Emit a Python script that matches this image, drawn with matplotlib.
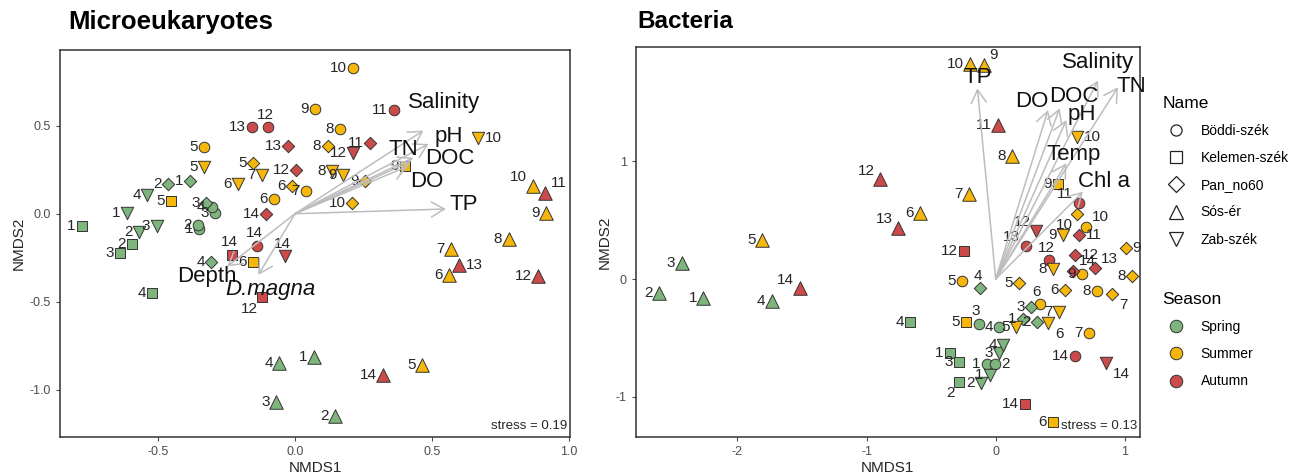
import matplotlib.pyplot as plt
from matplotlib.lines import Line2D

plt.rcParams['font.family'] = ['Liberation Sans', 'DejaVu Sans']

SITES = {'B': 'Böddi-szék', 'K': 'Kelemen-szék', 'P': 'Pan_no60',
         'S': 'Sós-ér', 'Z': 'Zab-szék'}
SEASONS = ['Spring', 'Summer', 'Autumn']

# ---- Microeukaryotes NMDS site scores ----
micro_site = ['B'] * 14 + ['K'] * 9 + ['P'] * 13 + ['S'] * 14 + ['Z'] * 12
micro_sample = [1, 2, 3, 4, 5, 6, 7, 8, 9, 10, 11, 12, 13, 14,
                1, 2, 3, 4, 5, 6, 9, 12, 14,
                1, 2, 3, 4, 5, 6, 8, 9, 10, 11, 12, 13, 14,
                1, 2, 3, 4, 5, 6, 7, 8, 9, 10, 11, 12, 13, 14,
                1, 2, 3, 4, 5, 6, 7, 8, 9, 10, 12, 14]
micro_x = [-0.350, -0.356, -0.292, -0.305, -0.333, -0.076, 0.039, 0.165, 0.073, 0.213, 0.363, -0.098, -0.156, -0.138,
           -0.780, -0.597, -0.640, -0.522, -0.453, -0.155, 0.402, -0.122, -0.231,
           -0.384, -0.466, -0.325, -0.307, -0.155, -0.010, 0.119, 0.256, 0.207, 0.274, 0.004, -0.027, -0.107,
           0.069, 0.146, -0.069, -0.057, 0.463, 0.561, 0.569, 0.780, 0.918, 0.868, 0.914, 0.887, 0.600, 0.321,
           -0.615, -0.570, -0.506, -0.540, -0.333, -0.207, -0.122, 0.134, 0.174, 0.668, 0.213, -0.037]
micro_y = [-0.087, -0.063, 0.007, 0.038, 0.379, 0.085, 0.127, 0.481, 0.597, 0.828, 0.591, 0.492, 0.490, -0.182,
           -0.072, -0.172, -0.223, -0.451, 0.074, -0.275, 0.269, -0.475, -0.233,
           0.184, 0.170, 0.061, -0.275, 0.288, 0.155, 0.383, 0.188, 0.061, 0.401, 0.250, 0.386, -0.002,
           -0.811, -1.148, -1.066, -0.849, -0.858, -0.347, -0.200, -0.144, 0.007, 0.159, 0.118, -0.352, -0.290, -0.915,
           0.007, -0.106, -0.072, 0.108, 0.265, 0.169, 0.222, 0.240, 0.222, 0.430, 0.345, -0.242]
micro_label_pos = {('B', 12): 'a', ('B', 14): 'a', ('K', 12): 'bl', ('K', 14): 'a',
                   ('S', 10): 'al', ('S', 11): 'ar', ('S', 13): 'r', ('Z', 10): 'r',
                   ('Z', 14): 'a'}

micro_vec_names = ['Salinity', 'pH', 'TN', 'DOC', 'DO', 'TP', 'Depth', 'D.magna']
micro_vec_x = [0.469, 0.488, 0.432, 0.420, 0.410, 0.551, -0.248, -0.134]
micro_vec_y = [0.472, 0.396, 0.318, 0.295, 0.268, 0.027, -0.299, -0.347]
micro_vec_lx = [0.546, 0.561, 0.396, 0.567, 0.481, 0.616, -0.323, -0.091]
micro_vec_ly = [0.629, 0.436, 0.367, 0.311, 0.184, 0.051, -0.356, -0.428]

# ---- Bacteria NMDS site scores ----
bact_site = ['B'] * 14 + ['K'] * 9 + ['P'] * 14 + ['S'] * 14 + ['Z'] * 12
bact_sample = [1, 2, 3, 4, 5, 6, 7, 8, 9, 10, 11, 12, 13, 14,
               1, 2, 3, 4, 5, 6, 9, 12, 14,
               1, 2, 3, 4, 5, 6, 7, 8, 9, 10, 11, 12, 13, 14,
               1, 2, 3, 4, 5, 6, 7, 8, 9, 10, 11, 12, 13, 14,
               1, 2, 3, 4, 5, 6, 7, 8, 9, 10, 12, 14]
bact_x = [-0.067, -0.008, -0.131, 0.026, -0.261, 0.340, 0.719, 0.786, 0.671, 0.701, 0.642, 0.410, 0.232, 0.611,
          -0.356, -0.284, -0.284, -0.660, -0.227, 0.443, 0.482, -0.245, 0.230,
          0.211, 0.322, 0.271, -0.118, 0.180, 0.539, 0.900, 1.057, 1.005, 0.632, 0.644, 0.611, 0.771, 0.598,
          -2.264, -2.604, -2.431, -1.735, -1.807, -0.588, -0.206, 0.126, -0.093, -0.201, 0.018, -0.892, -0.755, -1.516,
          -0.046, -0.111, 0.026, 0.057, 0.155, 0.405, 0.490, 0.443, 0.521, 0.632, 0.315, 0.856]
bact_y = [-0.720, -0.720, -0.381, -0.404, -0.017, -0.212, -0.455, -0.102, 0.040, 0.443, 0.647, 0.161, 0.282, -0.653,
          -0.624, -0.870, -0.706, -0.362, -0.362, -1.209, 0.805, 0.240, -1.059,
          -0.342, -0.367, -0.235, -0.079, -0.037, -0.093, -0.130, 0.025, 0.260, 0.551, 0.373, 0.203, 0.091, 0.070,
          -0.164, -0.116, 0.133, -0.186, 0.330, 0.562, 0.718, 1.045, 1.814, 1.822, 1.305, 0.845, 0.435, -0.079,
          -0.814, -0.884, -0.630, -0.559, -0.404, -0.376, -0.282, 0.082, 0.373, 1.206, 0.409, -0.715]
bact_label_pos = {('B', 2): 'r', ('B', 3): 'a', ('B', 6): 'a', ('B', 10): 'ar', ('B', 11): 'al',
                  ('B', 12): 'a', ('B', 13): 'al', ('K', 2): 'bl', ('P', 4): 'a',
                  ('P', 7): 'br', ('P', 9): 'r', ('P', 10): 'bl', ('P', 11): 'r', ('P', 12): 'r',
                  ('P', 13): 'ar', ('P', 14): 'ar', ('S', 9): 'ar', ('S', 12): 'al',
                  ('S', 13): 'al', ('S', 14): 'al', ('Z', 6): 'br', ('Z', 10): 'r',
                  ('Z', 12): 'al', ('Z', 14): 'br'}

bact_vec_names = ['TP', 'DO', 'DOC', 'pH', 'Salinity', 'TN', 'Temp', 'Chl a']
bact_vec_x = [-0.142, 0.405, 0.495, 0.547, 0.791, 0.946, 0.547, 0.675]
bact_vec_y = [1.616, 1.432, 1.446, 1.347, 1.681, 1.625, 0.981, 0.740]
bact_vec_lx = [-0.142, 0.276, 0.603, 0.663, 0.791, 1.049, 0.603, 0.835]
bact_vec_ly = [1.709, 1.503, 1.545, 1.390, 1.833, 1.630, 1.051, 0.825]

season_colors = {'Spring': '#7DB57C', 'Summer': '#F6B70A', 'Autumn': '#CC4A4A'}
site_markers = {'B': 'o', 'K': 's', 'P': 'D', 'S': '^', 'Z': 'v'}
site_sizes = {'B': 58, 'K': 50, 'P': 40, 'S': 95, 'Z': 80}
label_offsets = {'l': (-4.5, 0, 'right', 'center'), 'r': (5, 0, 'left', 'center'),
                 'a': (-2, 9, 'center', 'center'), 'al': (-4, 6, 'right', 'center'),
                 'ar': (4, 7, 'left', 'center'), 'bl': (-3, -8, 'right', 'center'),
                 'br': (5, -8, 'left', 'center')}
ARROW_COL = '#BDBDBD'


def season_of(n):
    if n <= 4:
        return 'Spring'
    if n <= 10:
        return 'Summer'
    return 'Autumn'


def draw_panel(ax, site, sample, xs, ys, label_pos, vnames, vx, vy, vlx, vly, stress):
    for s, n, x, y in zip(site, sample, xs, ys):
        ax.scatter(x, y, marker=site_markers[s], s=site_sizes[s],
                   color=season_colors[season_of(n)], edgecolor='#333333',
                   linewidth=0.7, zorder=2)
        dx, dy, ha, va = label_offsets[label_pos.get((s, n), 'l')]
        ax.annotate(str(n), (x, y), xytext=(dx, dy), textcoords='offset points',
                    ha=ha, va=va, fontsize=11, color='#262626', zorder=3)
    for name, x, y, lx, ly in zip(vnames, vx, vy, vlx, vly):
        ax.annotate('', xy=(x, y), xytext=(0, 0),
                    arrowprops=dict(arrowstyle='->,head_length=0.55,head_width=0.32',
                                    color=ARROW_COL, lw=1.1, shrinkA=0, shrinkB=0,
                                    mutation_scale=17), zorder=4)
        style = 'italic' if name == 'D.magna' else 'normal'
        ax.text(lx, ly, name, ha='center', va='center', fontsize=16,
                style=style, color='#111111', zorder=5)
    ax.text(0.995, 0.012, 'stress = %.2f' % stress, transform=ax.transAxes,
            ha='right', va='bottom', fontsize=9.5, color='#262626')
    ax.set_xlabel('NMDS1', fontsize=11, color='#262626', labelpad=2)
    ax.set_ylabel('NMDS2', fontsize=11, color='#262626', labelpad=3)
    ax.tick_params(labelsize=9, colors='#4D4D4D', length=3, width=0.8)
    for sp in ax.spines.values():
        sp.set_color('#333333')
        sp.set_linewidth(1.1)


fig = plt.figure(figsize=(12.98, 4.75), dpi=100)
ax1 = fig.add_axes([0.0462, 0.080, 0.3930, 0.815])
ax2 = fig.add_axes([0.4900, 0.080, 0.3880, 0.821])

draw_panel(ax1, micro_site, micro_sample, micro_x, micro_y, micro_label_pos,
           micro_vec_names, micro_vec_x, micro_vec_y, micro_vec_lx, micro_vec_ly, 0.19)
ax1.set_xlim(-0.859, 1.005)
ax1.set_ylim(-1.267, 0.93)
ax1.set_xticks([-0.5, 0.0, 0.5, 1.0])
ax1.set_xticklabels(['-0.5', '0.0', '0.5', '1.0'])
ax1.set_yticks([-1.0, -0.5, 0.0, 0.5])
ax1.set_yticklabels(['-1.0', '-0.5', '0.0', '0.5'])

draw_panel(ax2, bact_site, bact_sample, bact_x, bact_y, bact_label_pos,
           bact_vec_names, bact_vec_x, bact_vec_y, bact_vec_lx, bact_vec_ly, 0.13)
ax2.set_xlim(-2.784, 1.114)
ax2.set_ylim(-1.339, 1.966)
ax2.set_xticks([-2, -1, 0, 1])
ax2.set_xticklabels(['-2', '-1', '0', '1'])
ax2.set_yticks([-1, 0, 1])
ax2.set_yticklabels(['-1', '0', '1'])

fig.text(68 / 1298, 1 - 22 / 475, 'Microeukaryotes', fontsize=18.5, weight='bold', va='center')
fig.text(637 / 1298, 1 - 22 / 475, 'Bacteria', fontsize=17.5, weight='bold', va='center')

# legends
name_handles = [Line2D([], [], linestyle='none', marker=site_markers[k],
                       markersize=8 if k in 'BKP' else 9.5, markerfacecolor='white',
                       markeredgecolor='#222222', markeredgewidth=0.9)
                for k in SITES]
leg1 = fig.legend(name_handles, list(SITES.values()), title='Name', loc='upper left',
                  bbox_to_anchor=(0.886, 0.825), frameon=False, fontsize=10,
                  title_fontsize=12.5, labelspacing=0.95, handletextpad=0.75,
                  alignment='left')
season_handles = [Line2D([], [], linestyle='none', marker='o', markersize=9,
                         markerfacecolor=season_colors[k], markeredgecolor='#333333',
                         markeredgewidth=0.7) for k in SEASONS]
leg2 = fig.legend(season_handles, SEASONS, title='Season', loc='upper left',
                  bbox_to_anchor=(0.886, 0.412), frameon=False, fontsize=10,
                  title_fontsize=12.5, labelspacing=0.95, handletextpad=0.75,
                  alignment='left')

fig.savefig('out.png', dpi=100)
